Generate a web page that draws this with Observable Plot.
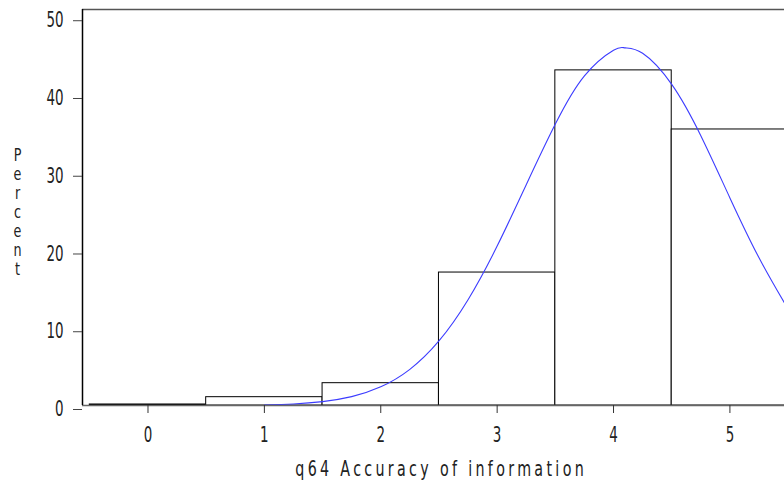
<!DOCTYPE html>
<html>
<head>
<meta charset="utf-8">
<script src="https://cdn.jsdelivr.net/npm/d3@7"></script>
<script src="https://cdn.jsdelivr.net/npm/@observablehq/plot@0.6"></script>
<style>
  html, body { margin: 0; padding: 0; background: white; overflow: hidden; }
</style>
</head>
<body>
<div id="chart"></div>
<script>
// Histogram bins (midpoints) and percent heights
const categories = [0, 1, 2, 3, 4, 5];
const percents = [0.13, 1.07, 2.87, 17.1, 43.1, 35.5];

// Fitted normal curve
const curveX = [1.0, 1.25, 1.5, 1.75, 2.0, 2.25, 2.5, 2.75, 3.0, 3.25, 3.5, 3.75, 4.0, 4.1, 4.25, 4.5, 4.75, 5.0, 5.25, 5.5];
const curveY = [0.07, 0.2, 0.5, 1.14, 2.4, 4.65, 8.3, 13.6, 20.5, 28.4, 36.2, 42.4, 45.7, 46.0, 45.3, 41.3, 34.7, 26.7, 19.0, 12.4];

const xTicks = [0, 1, 2, 3, 4, 5];
const yTicks = [0, 10, 20, 30, 40, 50];
const xTitle = "q64 Accuracy of information";
const yTitle = "Percent";

const bars = categories.map((c, i) => ({c, p: percents[i]}));
const curve = curveX.map((x, i) => ({x, y: curveY[i]}));

const font = "'DejaVu Sans', sans-serif";

const chart = Plot.plot({
  width: 784,
  height: 487,
  marginLeft: 82,
  marginRight: 0,
  marginTop: 9,
  marginBottom: 82,
  x: {domain: [-0.5627, 5.469]},
  y: {domain: [0, 50.93]},
  style: {fontFamily: font, fontSize: "21px", color: "#222", background: "white"},
  marks: [
    Plot.rectY(bars, {x1: d => d.c - 0.5, x2: d => d.c + 0.5, y: "p", fill: "white", stroke: "black", strokeWidth: 1, clip: true}),
    Plot.line(curve, {x: "x", y: "y", stroke: "#3c3cff", strokeWidth: 1.1, curve: "natural", clip: true}),
    Plot.ruleY([0], {stroke: "#666", strokeWidth: 1.5}),
    Plot.ruleY([50.93], {stroke: "#555", strokeWidth: 1.5}),
    Plot.ruleX([-0.5627], {stroke: "black", strokeWidth: 1.5}),
    Plot.axisX({ticks: xTicks, tickFormat: d3.format("d"), tickSize: 8, tickPadding: 14, label: null, stroke: "#333", fontSize: 21}),
    Plot.axisY({ticks: yTicks, tickFormat: d3.format("d"), tickSize: 9, tickPadding: 10, dy: 4, label: null, stroke: "#444", fontSize: 21}),
    Plot.text([xTitle], {frameAnchor: "bottom", dy: 64, dx: 6, lineAnchor: "middle", fontSize: 21}),
    Plot.text([yTitle.split("").join("\n")], {frameAnchor: "left", dx: -65, dy: 4, lineAnchor: "middle", lineHeight: 19 / 17, fontSize: 17, textAnchor: "middle"})
  ]
});
document.getElementById("chart").appendChild(chart);

// Narrow the glyphs to mimic the condensed SAS stroke font
function squeeze(el, factor) {
  const w = el.getComputedTextLength();
  if (w > 0) {
    el.setAttribute("textLength", (w * factor).toFixed(2));
    el.setAttribute("lengthAdjust", "spacingAndGlyphs");
  }
}
chart.querySelectorAll('g[aria-label$="tick label"] text').forEach(t => squeeze(t, 0.64));
chart.querySelectorAll("text tspan").forEach(t => squeeze(t, 0.75));

// x title: narrow glyphs with wide letter spacing, spanning ~292px
chart.querySelectorAll("text").forEach(t => {
  if (t.textContent !== xTitle) return;
  const k = 0.68, target = 292;
  const w = t.getComputedTextLength();
  const n = xTitle.length;
  const ls = (target / k - w) / n;
  t.style.letterSpacing = ls.toFixed(2) + "px";
  // anchor x of the text in its parent's coordinates
  let ax = 0;
  const c = t.transform.baseVal.consolidate();
  if (c) ax += c.matrix.e;
  const xa = t.getAttribute("x");
  if (xa) ax += parseFloat(xa);
  const g = document.createElementNS("http://www.w3.org/2000/svg", "g");
  g.setAttribute("transform", `translate(${ax + k * ls / 2},0) scale(${k},1) translate(${-ax},0)`);
  t.parentNode.insertBefore(g, t);
  g.appendChild(t);
});
</script>
</body>
</html>
